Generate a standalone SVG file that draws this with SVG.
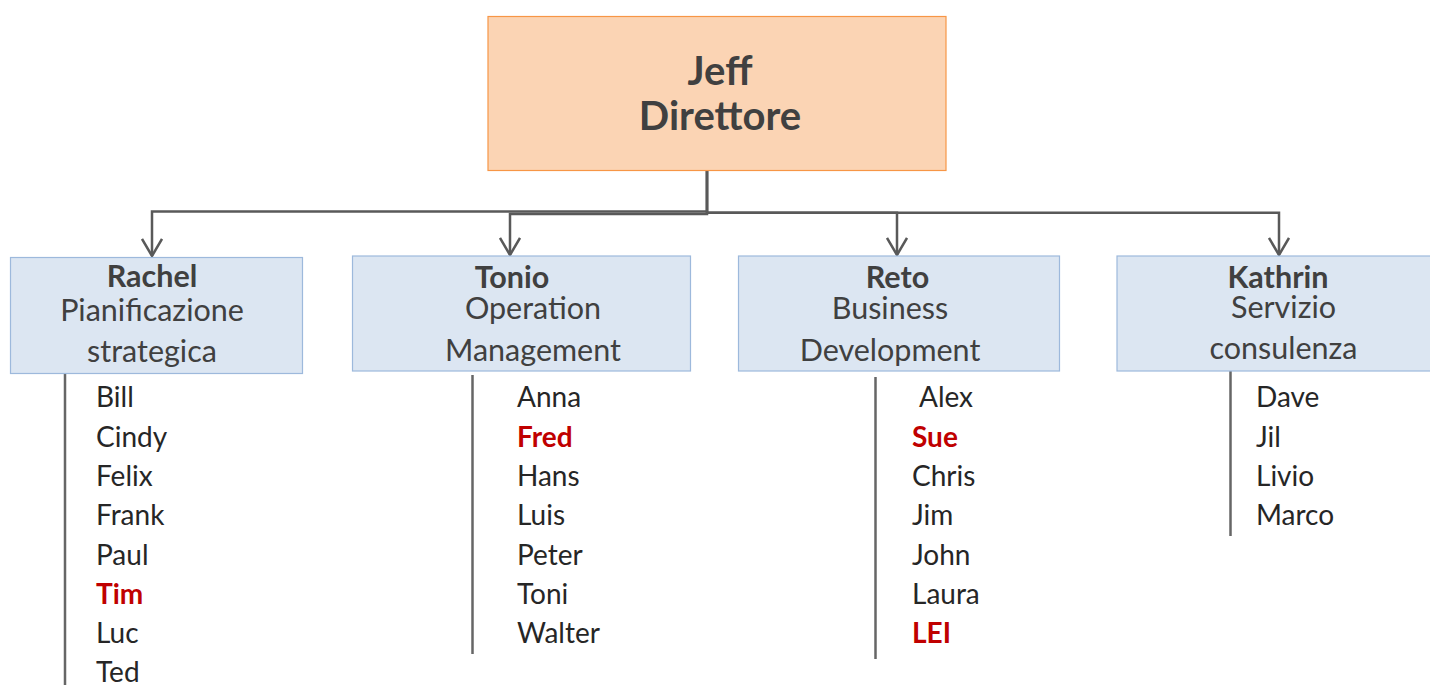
<svg xmlns="http://www.w3.org/2000/svg" width="1430" height="685" viewBox="0 0 1430 685">
<style>
.box{fill:#DCE6F2;stroke:#9DB9DC;stroke-width:1.2}
.top{fill:#FBD4B4;stroke:#F79646;stroke-width:1.2}
.hd{font-family:Lato,"Liberation Sans",sans-serif;fill:#404040;text-anchor:middle}
.b{font-weight:bold}
.t{font-size:30.5px}
.j{font-size:40px;font-weight:bold}
.nm{font-family:Lato,"Liberation Sans",sans-serif;font-size:28px;fill:#262626}
.red{fill:#C00000;font-weight:bold}
.ln{fill:none;stroke:#595959;stroke-width:2.5}
.bar{fill:none;stroke:#666666;stroke-width:2.5}
</style>
<defs>
<marker id="arr" viewBox="0 0 20 22" refX="18" refY="11" markerWidth="20" markerHeight="22" markerUnits="userSpaceOnUse" orient="auto">
<path d="M1,1 L18,11 L1,21" fill="none" stroke="#595959" stroke-width="2.5"/>
</marker>
</defs>
<g id="connectors">
<path class="ln" d="M707,171 V211.5 H152 V256" marker-end="url(#arr)"/>
<path class="ln" d="M707,171 V214 H510 V255" marker-end="url(#arr)"/>
<path class="ln" d="M707,171 V212.7 H897 V255" marker-end="url(#arr)"/>
<path class="ln" d="M707,212.7 H1279 V255" marker-end="url(#arr)"/>
<path class="bar" d="M65,374 V685"/>
<path class="bar" d="M472.5,375 V654"/>
<path class="bar" d="M875.5,377 V659"/>
<path class="bar" d="M1230.5,371 V536"/>
</g>
<g id="jeff">
<rect class="top" x="488" y="16.5" width="458" height="154"/>
<text class="hd j" x="720" y="85">Jeff</text>
<text class="hd j" x="720" y="130">Direttore</text>
</g>
<g id="rachel">
<rect class="box" x="10.5" y="257.5" width="292" height="116"/>
<text class="hd t b" x="152" y="287">Rachel</text>
<text class="hd t" x="152" y="321">Pianificazione</text>
<text class="hd t" x="152" y="362">strategica</text>
</g>
<g id="tonio">
<rect class="box" x="352.5" y="256" width="338" height="115"/>
<text class="hd t b" x="512" y="288">Tonio</text>
<text class="hd t" x="533" y="319">Operation</text>
<text class="hd t" x="533" y="361">Management</text>
</g>
<g id="reto">
<rect class="box" x="738.5" y="256" width="321" height="115"/>
<text class="hd t b" x="897.5" y="288">Reto</text>
<text class="hd t" x="890" y="319">Business</text>
<text class="hd t" x="890" y="361">Development</text>
</g>
<g id="kathrin">
<rect class="box" x="1117" y="256" width="320" height="115"/>
<text class="hd t b" x="1278" y="288">Kathrin</text>
<text class="hd t" x="1283.5" y="318">Servizio</text>
<text class="hd t" x="1283.5" y="359">consulenza</text>
</g>
<g id="list-rachel" class="nm">
<text x="96" y="407">Bill</text>
<text x="96" y="447">Cindy</text>
<text x="96" y="486">Felix</text>
<text x="96" y="525">Frank</text>
<text x="96" y="565">Paul</text>
<text x="96" y="604" class="red">Tim</text>
<text x="96" y="643">Luc</text>
<text x="96" y="682">Ted</text>
</g>
<g id="list-tonio" class="nm">
<text x="517" y="407">Anna</text>
<text x="517" y="447" class="red">Fred</text>
<text x="517" y="486">Hans</text>
<text x="517" y="525">Luis</text>
<text x="517" y="565">Peter</text>
<text x="517" y="604">Toni</text>
<text x="517" y="643">Walter</text>
</g>
<g id="list-reto" class="nm">
<text x="919" y="407">Alex</text>
<text x="912" y="447" class="red">Sue</text>
<text x="912" y="486">Chris</text>
<text x="912" y="525">Jim</text>
<text x="912" y="565">John</text>
<text x="912" y="604">Laura</text>
<text x="912" y="643" class="red">LEI</text>
</g>
<g id="list-kathrin" class="nm">
<text x="1256" y="407">Dave</text>
<text x="1256" y="447">Jil</text>
<text x="1256" y="486">Livio</text>
<text x="1256" y="525">Marco</text>
</g>
</svg>
